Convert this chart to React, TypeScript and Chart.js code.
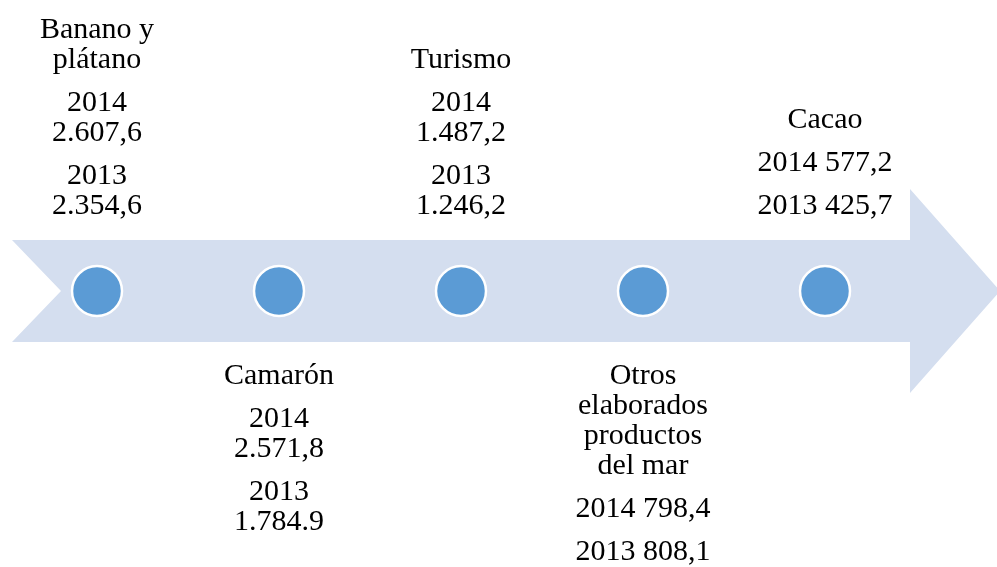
import React, { useEffect, useRef } from "react";
import { Chart, registerables } from "chart.js";

Chart.register(...registerables);

// ---- data ----
const categories = [
  "Banano y plátano",
  "Camarón",
  "Turismo",
  "Otros elaborados productos del mar",
  "Cacao",
];
const years = ["2014", "2013"];
const values2014 = ["2.607,6", "2.571,8", "1.487,2", "798,4", "577,2"];
const values2013 = ["2.354,6", "1.784.9", "1.246,2", "808,1", "425,7"];
const sides = ["top", "bottom", "top", "bottom", "top"];

const W = 997;
const H = 567;
const FONT = '30px "Liberation Serif", "Times New Roman", serif';
const LINE = 30;
const PARA = 13;
const WRAP = 146;

function wrap(ctx: CanvasRenderingContext2D, text: string, max: number): string[] {
  const words = text.split(" ");
  const lines: string[] = [];
  let cur = "";
  for (const w of words) {
    const t = cur ? cur + " " + w : w;
    if (cur && ctx.measureText(t).width > max) {
      lines.push(cur);
      cur = w;
    } else cur = t;
  }
  if (cur) lines.push(cur);
  return lines;
}

const arrowPlugin = {
  id: "arrowBg",
  beforeDatasetsDraw(chart: any) {
    const { ctx } = chart;
    const yc = chart.scales.y.getPixelForValue(0);
    const half = 51;
    const headHalf = 102;
    ctx.save();
    ctx.fillStyle = "#D4DEEF";
    ctx.beginPath();
    ctx.moveTo(12, yc - half);
    ctx.lineTo(910, yc - half);
    ctx.lineTo(910, yc - headHalf);
    ctx.lineTo(1000, yc);
    ctx.lineTo(910, yc + headHalf);
    ctx.lineTo(910, yc + half);
    ctx.lineTo(12, yc + half);
    ctx.lineTo(61, yc);
    ctx.closePath();
    ctx.fill();
    ctx.restore();
  },
};

const labelPlugin = {
  id: "labels",
  afterDatasetsDraw(chart: any) {
    const { ctx } = chart;
    ctx.save();
    ctx.font = FONT;
    ctx.fillStyle = "#000000";
    ctx.textAlign = "center";
    ctx.textBaseline = "alphabetic";
    categories.forEach((cat, i) => {
      const x = chart.scales.x.getPixelForValue(i);
      const paras = [
        wrap(ctx, cat, WRAP),
        wrap(ctx, years[0] + " " + values2014[i], WRAP),
        wrap(ctx, years[1] + " " + values2013[i], WRAP),
      ];
      const items: { text: string; gap: boolean }[] = [];
      paras.forEach((p, pi) => p.forEach((l, li) => items.push({ text: l, gap: pi > 0 && li === 0 })));
      if (sides[i] === "top") {
        let y = 214;
        for (let k = items.length - 1; k >= 0; k--) {
          ctx.fillText(items[k].text, x, y);
          y -= LINE + (items[k].gap ? PARA : 0);
        }
      } else {
        let y = 384;
        items.forEach((it, k) => {
          if (k > 0) y += LINE + (it.gap ? PARA : 0);
          ctx.fillText(it.text, x, y);
        });
      }
    });
    ctx.restore();
  },
};

export default function App() {
  const ref = useRef<HTMLCanvasElement>(null);
  useEffect(() => {
    document.body.style.margin = "0";
    const canvas = ref.current!;
    const chart = new Chart(canvas, {
      type: "scatter",
      data: {
        datasets: [
          {
            data: categories.map((_, i) => ({ x: i, y: 0 })),
            backgroundColor: "#5B9BD5",
            borderColor: "#FFFFFF",
            borderWidth: 2.5,
            pointRadius: 25,
            pointHoverRadius: 25,
          },
        ],
      },
      options: {
        responsive: false,
        animation: false,
        devicePixelRatio: 1,
        layout: { padding: 0, autoPadding: false },
        plugins: { legend: { display: false }, tooltip: { enabled: false } },
        events: [],
        scales: {
          x: { type: "linear", display: false, min: -97 / 182, max: (W - 97) / 182 },
          y: { type: "linear", display: false, min: -(H - 291) / 291, max: 1 },
        },
      },
      plugins: [arrowPlugin, labelPlugin],
    });
    return () => chart.destroy();
  }, []);
  return (
    <div style={{ position: "absolute", left: 0, top: 0, width: W, height: H, background: "#fff" }}>
      <canvas ref={ref} width={W} height={H} style={{ display: "block" }} />
    </div>
  );
}
